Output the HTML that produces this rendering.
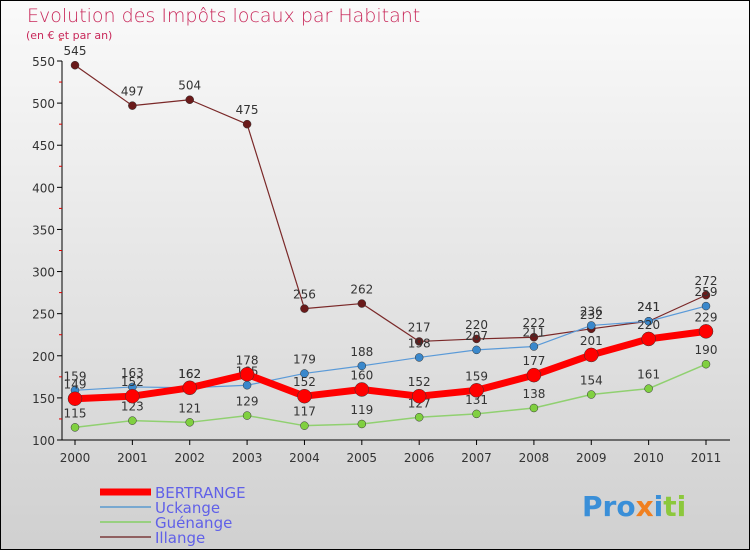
<!DOCTYPE html>
<html><head><meta charset="utf-8"><style>
body{margin:0;}
#c{width:750px;height:550px;position:relative;overflow:hidden;font-family:"DejaVu Sans","Liberation Sans",sans-serif;}
</style></head><body>
<div id="c">
<svg id="s" width="750" height="550" xmlns="http://www.w3.org/2000/svg">
<defs><linearGradient id="bg" x1="0" y1="0" x2="0" y2="1"><stop offset="0" stop-color="#fafafa"/><stop offset="1" stop-color="#d0d0d0"/></linearGradient></defs>
<rect x="0.5" y="0.5" width="749" height="549" fill="url(#bg)" stroke="#000"/>
<text x="27" y="22" font-size="19" fill="#c8285a" font-family="DejaVu Sans" font-weight="200">Evolution des Impôts locaux par Habitant</text>
<text x="26" y="39" font-size="11" fill="#c8285a">(en € et par an)</text>
<g id="g"></g>
<text x="582" y="516" font-size="28" font-weight="bold" fill="#3a8fd8">Pro<tspan fill="#f08020">x</tspan><tspan fill="#3a8fd8">i</tspan><tspan fill="#8cc83c">ti</tspan></text>
</svg>
</div>
<script>
const years=["2000","2001","2002","2003","2004","2005","2006","2007","2008","2009","2010","2011"];
const yTicks=[100,150,200,250,300,350,400,450,500,550];
const bertrange=[149,152,162,178,152,160,152,159,177,201,220,229];
const uckange=[159,163,162,165,179,188,198,207,211,236,241,259];
const guenange=[115,123,121,129,117,119,127,131,138,154,161,190];
const illange=[545,497,504,475,256,262,217,220,222,232,241,272];
const NS="http://www.w3.org/2000/svg";
const g=document.getElementById('g');
const X=i=>75+i*(706-75)/11;
const Y=v=>440-(v-100)*(440-61)/450;
function el(t,a,p){const e=document.createElementNS(NS,t);for(const k in a)e.setAttribute(k,a[k]);(p||g).appendChild(e);return e;}
let ax=el('line',{x1:62,y1:61,x2:62,y2:440,stroke:'#000'});

let bx=el('line',{x1:62,y1:440,x2:730,y2:440,stroke:'#000'});

yTicks.forEach(v=>{
 el('line',{x1:57,y1:Y(v),x2:62,y2:Y(v),stroke:'#000'});
 el('line',{x1:59,y1:Y(v+25),x2:62,y2:Y(v+25),stroke:'#d00'});
 const t=el('text',{x:55,y:Y(v)+5,'font-size':12,'text-anchor':'end',fill:'#333'});t.textContent=v;
 
});
years.forEach((y,i)=>{
 el('line',{x1:X(i),y1:440,x2:X(i),y2:445,stroke:'#000'});
 const t=el('text',{x:X(i),y:462,'font-size':12,'text-anchor':'middle',fill:'#333'});t.textContent=y;
 
});
function series(d,col,w,r,name,dot){
 const gg=el('g',{});
 el('polyline',{points:d.map((v,i)=>X(i)+','+Y(v)).join(' '),fill:'none',stroke:col,'stroke-width':w,'stroke-linejoin':'round'},gg);
 d.forEach((v,i)=>{
  const c=el('circle',{cx:X(i),cy:Y(v),r:r,fill:dot,stroke:'#333','stroke-width':0.5},gg);
  
  const t=el('text',{x:X(i),y:Y(v)-10,'font-size':12,'text-anchor':'middle',fill:'#333'},gg);t.textContent=v;
 });
}
series(illange,'#7a2828',1.2,4,'illange','#6a1a1a');
series(guenange,'#90d070',1.5,4,'guenange','#80d040');
series(uckange,'#5a9ad8',1.2,4,'uckange','#3a88cc');
series(bertrange,'#f00',7,7,'bertrange','#f00');
const leg=[["BERTRANGE","#f00",7],["Uckange","#78a8d0",2],["Guénange","#98d080",2],["Illange","#906060",2]];
leg.forEach((l,i)=>{
 const y=492+i*15;
 const ln=el('line',{x1:100,y1:y,x2:151,y2:y,stroke:l[1],'stroke-width':l[2]});
 
 const t=el('text',{x:155,y:y+6,'font-size':15,fill:'#6060e8'});t.textContent=l[0];
 
});
</script>
</body></html>
